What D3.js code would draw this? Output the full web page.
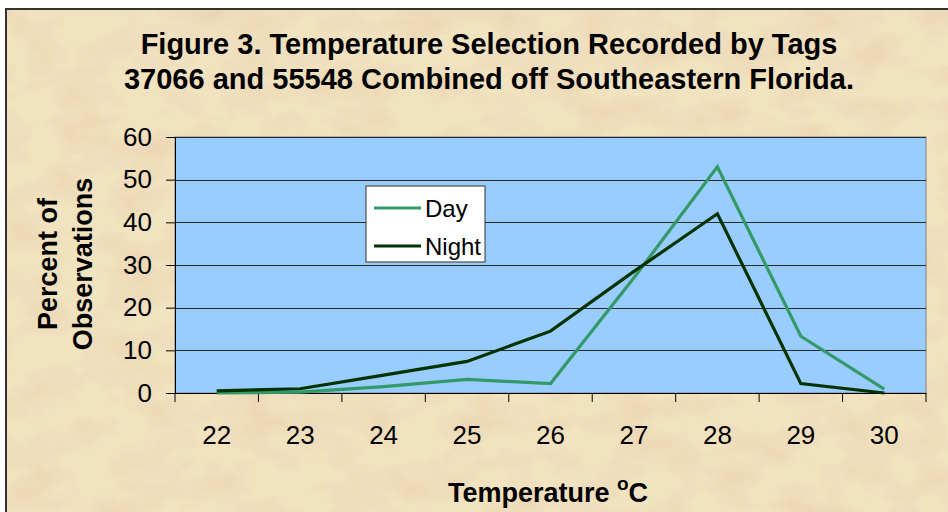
<!DOCTYPE html>
<html>
<head>
<meta charset="utf-8">
<script src="https://cdn.jsdelivr.net/npm/d3@7"></script>
<style>
    body { margin: 0; background: #fff; }
    svg { display: block; font-family: "Liberation Sans", Arial, sans-serif; }
</style>
</head>
<body>
<div id="chart"></div>
<script>
// Chart data
const temperatures = ['22', '23', '24', '25', '26', '27', '28', '29', '30'];
const daySeries = [0, 0.2, 1.5, 3.2, 2.2, 27, 53, 13.3, 0.9];
const nightSeries = [0.5, 1, 4.2, 7.4, 14.5, 28.5, 42, 2.2, 0];
const yTicks = [0, 10, 20, 30, 40, 50, 60];
const titleLines = ['Figure 3. Temperature Selection Recorded by Tags', '37066 and 55548 Combined off Southeastern Florida.'];

const width = 948;
const height = 512;
const plot = { left: 175, right: 926, top: 137, bottom: 393 };

const svg = d3.select('#chart')
    .append('svg')
    .attr('width', width)
    .attr('height', height);

// Parchment texture
const defs = svg.append('defs');
const filter = defs.append('filter')
    .attr('id', 'parchment')
    .attr('x', 0).attr('y', 0).attr('width', 1).attr('height', 1);
filter.append('feTurbulence')
    .attr('type', 'fractalNoise')
    .attr('baseFrequency', '0.018 0.03')
    .attr('numOctaves', 4)
    .attr('seed', 7)
    .attr('result', 'noise');
filter.append('feColorMatrix')
    .attr('in', 'noise')
    .attr('type', 'matrix')
    .attr('values', '0 0 0 0 0.82  0 0 0 0 0.64  0 0 0 0 0.44  0 0 0 -1.6 0.95')
    .attr('result', 'tint');
filter.append('feComposite')
    .attr('in', 'tint')
    .attr('in2', 'SourceGraphic')
    .attr('operator', 'atop');

svg.append('rect')
    .attr('x', 5).attr('y', 8)
    .attr('width', width - 5).attr('height', height - 8)
    .attr('fill', '#f1e2c0')
    .attr('filter', 'url(#parchment)');

// Frame edges
svg.append('path')
    .attr('d', `M6,${height}V9H${width}`)
    .attr('fill', 'none')
    .attr('stroke', '#333')
    .attr('stroke-width', 2);

// Title
const title = svg.append('g')
    .attr('font-weight', 'bold')
    .attr('font-size', 29)
    .attr('text-anchor', 'middle');

title.selectAll('text')
    .data(titleLines)
    .join('text')
    .attr('x', 489)
    .attr('y', (d, i) => 54 + i * 35)
    .text(d => d);

// Scales
const x = d3.scaleBand()
    .domain(temperatures)
    .range([plot.left, plot.right]);

const y = d3.scaleLinear()
    .domain([0, 60])
    .range([plot.bottom, plot.top]);

// Plot area
svg.append('rect')
    .attr('x', plot.left)
    .attr('y', plot.top)
    .attr('width', plot.right - plot.left)
    .attr('height', plot.bottom - plot.top)
    .attr('fill', '#99ccff')
    .attr('stroke', '#808080')
    .attr('stroke-width', 1);

// Gridlines
svg.append('g')
    .attr('class', 'grid')
    .selectAll('line')
    .data(yTicks.slice(1))
    .join('line')
    .attr('x1', plot.left)
    .attr('x2', plot.right)
    .attr('y1', d => Math.round(y(d)) + 0.5)
    .attr('y2', d => Math.round(y(d)) + 0.5)
    .attr('stroke', '#2a2a2a')
    .attr('stroke-width', 1);

// Y axis
const yAxis = svg.append('g')
    .attr('class', 'y-axis')
    .attr('transform', `translate(${plot.left},0)`)
    .call(d3.axisLeft(y).tickValues(yTicks).tickSize(9).tickPadding(14).tickSizeOuter(0));

yAxis.selectAll('text')
    .attr('font-size', 26)
    .attr('font-family', '"Liberation Sans", Arial, sans-serif')
    .attr('fill', '#000');

// X axis
const xAxis = svg.append('g')
    .attr('class', 'x-axis')
    .attr('transform', `translate(0,${plot.bottom})`)
    .call(d3.axisBottom(x).tickSize(0).tickPadding(33).tickSizeOuter(0));

xAxis.selectAll('text')
    .attr('font-size', 26)
    .attr('font-family', '"Liberation Sans", Arial, sans-serif')
    .attr('fill', '#000');

// Tick marks sit on band edges
const edges = temperatures.map(d => x(d)).concat([x.range()[1]]);
xAxis.selectAll('.edge')
    .data(edges)
    .join('line')
    .attr('class', 'edge')
    .attr('x1', d => d).attr('x2', d => d)
    .attr('y1', 0).attr('y2', 9)
    .attr('stroke', '#000');

svg.selectAll('.domain')
    .attr('stroke', '#000');

// Lines
const series = [
    { name: 'Day', values: daySeries, color: '#339966' },
    { name: 'Night', values: nightSeries, color: '#003300' }
];

const line = d3.line()
    .x((d, i) => x(temperatures[i]) + x.bandwidth() / 2)
    .y(d => y(d));

svg.append('g')
    .attr('class', 'lines')
    .selectAll('path')
    .data(series)
    .join('path')
    .attr('d', d => line(d.values))
    .attr('fill', 'none')
    .attr('stroke', d => d.color)
    .attr('stroke-width', 3.2)
    .attr('stroke-linejoin', 'miter');

// Legend
const legend = svg.append('g')
    .attr('class', 'legend')
    .attr('transform', 'translate(366,186)');

legend.append('rect')
    .attr('width', 119)
    .attr('height', 76)
    .attr('fill', '#fff')
    .attr('stroke', '#333')
    .attr('stroke-width', 1);

const items = legend.selectAll('.item')
    .data(series)
    .join('g')
    .attr('class', 'item')
    .attr('transform', (d, i) => `translate(0,${22 + i * 38})`);

items.append('line')
    .attr('x1', 8).attr('x2', 55)
    .attr('stroke', d => d.color)
    .attr('stroke-width', 3.2);

items.append('text')
    .attr('x', 59)
    .attr('y', 9)
    .attr('font-size', 24)
    .text(d => d.name);

// Axis titles
const xTitle = svg.append('text')
    .attr('x', 548)
    .attr('y', 502)
    .attr('text-anchor', 'middle')
    .attr('font-weight', 'bold')
    .attr('font-size', 27);

xTitle.append('tspan').text('Temperature ');
xTitle.append('tspan').attr('font-size', 19).attr('dy', -12).text('o');
xTitle.append('tspan').attr('dy', 12).text('C');

svg.append('g')
    .attr('font-weight', 'bold')
    .attr('font-size', 27)
    .attr('text-anchor', 'middle')
    .selectAll('text')
    .data(['Percent of', 'Observations'])
    .join('text')
    .attr('transform', (d, i) => `translate(${57 + i * 35},264) rotate(-90)`)
    .text(d => d);
</script>
</body>
</html>
